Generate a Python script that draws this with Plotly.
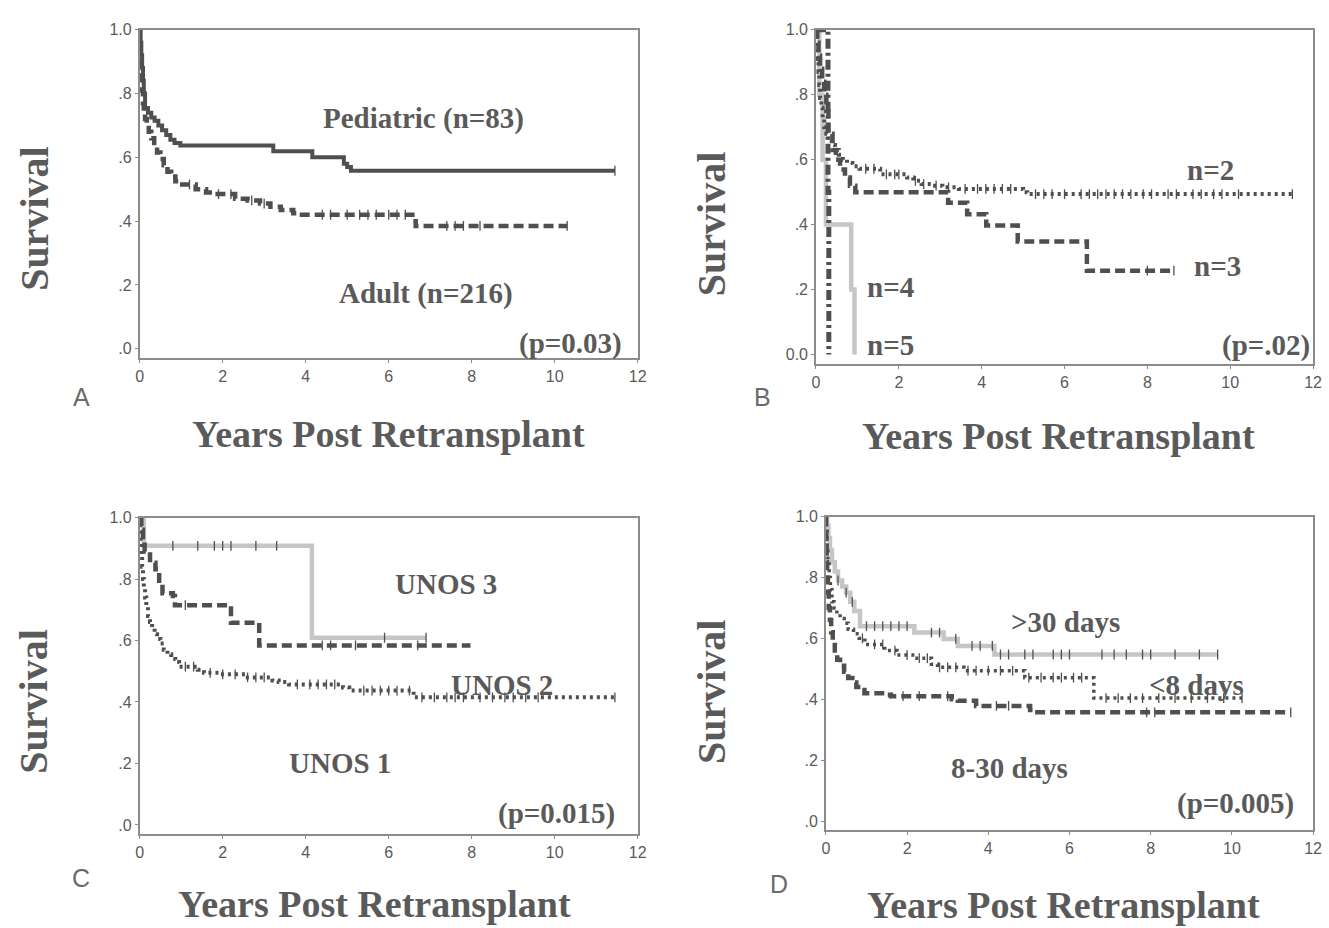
import plotly.graph_objects as go
import numpy as np

# ---------------- DATA ----------------
X_TICKS = [0, 2, 4, 6, 8, 10, 12]
Y_TICKS = [0.0, 0.2, 0.4, 0.6, 0.8, 1.0]
Y_LABELS = [".0", ".2", ".4", ".6", ".8", "1.0"]
Y_LABELS_B = ["0.0", ".2", ".4", ".6", ".8", "1.0"]

# Panel A
A_PED_T = [0.02, 0.04, 0.06, 0.08, 0.10, 0.13, 0.20, 0.28, 0.36, 0.45, 0.54, 0.64, 0.74, 0.84, 0.98, 3.22, 4.16, 4.92, 5.00, 5.09]
A_PED_S = [0.96, 0.92, 0.88, 0.84, 0.80, 0.755, 0.74, 0.725, 0.715, 0.70, 0.685, 0.67, 0.655, 0.645, 0.637, 0.619, 0.600, 0.580, 0.570, 0.558]
A_PED_END = 11.45
A_PED_C = [11.45]

A_ADU_T = [0.01, 0.02, 0.04, 0.06, 0.08, 0.10, 0.13, 0.17, 0.22, 0.28, 0.35, 0.42, 0.50, 0.58, 0.67, 0.76, 0.86, 0.95,
           1.35, 1.60, 1.75, 2.30, 2.60, 2.90, 3.15, 3.40, 3.70, 3.80, 6.57, 6.65]
A_ADU_S = [0.95, 0.90, 0.85, 0.81, 0.77, 0.74, 0.72, 0.70, 0.68, 0.66, 0.635, 0.615, 0.595, 0.575, 0.555, 0.54, 0.525, 0.515,
           0.50, 0.49, 0.485, 0.47, 0.465, 0.455, 0.445, 0.435, 0.425, 0.42, 0.40, 0.385]
A_ADU_END = 10.3
A_ADU_C = [1.2, 1.9, 2.2, 2.7, 3.0, 4.4, 4.6, 5.0, 5.3, 5.5, 5.7, 6.0, 6.2, 6.4, 7.4, 7.6, 7.8, 8.2, 10.3]

# Panel B
B2_T = [0.02, 0.04, 0.06, 0.08, 0.10, 0.13, 0.16, 0.20, 0.25, 0.30, 0.38, 0.46, 0.55, 0.65, 0.75, 0.88, 1.05,
        1.55, 2.20, 2.35, 2.55, 2.80, 3.05, 3.45, 5.00, 5.10]
B2_S = [0.95, 0.91, 0.87, 0.83, 0.79, 0.76, 0.73, 0.70, 0.68, 0.66, 0.645, 0.63, 0.615, 0.60, 0.59, 0.58, 0.572,
        0.555, 0.545, 0.535, 0.525, 0.52, 0.515, 0.51, 0.50, 0.494]
B2_END = 11.5
B2_C = [1.2, 1.4, 1.7, 1.9, 2.0, 2.4, 2.6, 2.9, 3.2, 3.6, 3.9, 4.1, 4.3, 4.5, 4.7, 5.3, 5.5, 5.7, 6.0, 6.4, 6.6, 6.8, 7.0,
        7.2, 7.4, 7.6, 7.9, 8.1, 8.5, 8.7, 9.1, 9.3, 9.6, 9.8, 10.2, 11.5]
B3_T = [0.03, 0.06, 0.10, 0.15, 0.20, 0.25, 0.30, 0.40, 0.48, 0.58, 0.70, 0.82, 0.95, 3.19, 3.65, 4.11, 4.87, 6.54]
B3_S = [0.96, 0.92, 0.88, 0.84, 0.80, 0.75, 0.68, 0.63, 0.60, 0.57, 0.545, 0.52, 0.50, 0.467, 0.432, 0.397, 0.348, 0.258]
B3_END = 8.64
B3_C = [8.0, 8.64]
B4_T = [0.08, 0.16, 0.24, 0.85, 0.93]
B4_S = [0.80, 0.60, 0.40, 0.20, 0.00]
B4_END = 0.93
B5_T = [0.29, 0.31]
B5_S = [0.50, 0.00]
B5_END = 0.31

# Panel C
C3_T = [0.10, 4.15]
C3_S = [0.908, 0.609]
C3_END = 6.9
C3_C = [0.8, 1.4, 1.8, 2.0, 2.2, 2.8, 3.3, 5.9, 6.9]
C2_T = [0.04, 0.08, 0.12, 0.25, 0.38, 0.47, 0.55, 0.80, 0.85, 2.20, 2.88]
C2_S = [0.96, 0.92, 0.89, 0.853, 0.832, 0.785, 0.754, 0.745, 0.715, 0.658, 0.584]
C2_END = 7.97
C2_C = [1.1, 4.4, 4.6, 5.2, 6.7]
C1_T = [0.01, 0.02, 0.04, 0.06, 0.08, 0.10, 0.13, 0.16, 0.20, 0.25, 0.30, 0.36, 0.42, 0.50, 0.58, 0.67, 0.76, 0.86, 0.95,
        1.40, 1.55, 1.95, 2.55, 3.20, 3.35, 3.60, 4.90, 5.05, 6.60]
C1_S = [0.96, 0.92, 0.88, 0.84, 0.80, 0.77, 0.74, 0.71, 0.68, 0.66, 0.64, 0.62, 0.605, 0.59, 0.57, 0.555, 0.54, 0.53, 0.515,
        0.505, 0.495, 0.49, 0.48, 0.47, 0.465, 0.457, 0.447, 0.437, 0.415]
C1_END = 11.45
C1_C = [1.1, 1.3, 1.7, 2.0, 2.3, 2.6, 2.8, 3.0, 3.8, 4.1, 4.3, 4.5, 4.7, 5.4, 5.6, 5.8, 6.0, 6.2, 6.5, 6.8, 7.1, 7.4,
        7.6, 7.8, 8.2, 8.5, 8.8, 9.0, 9.3, 9.6, 11.45]

# Panel D
D30_T = [0.03, 0.06, 0.10, 0.15, 0.22, 0.30, 0.40, 0.50, 0.60, 0.70, 0.84, 2.18, 2.90, 3.25, 4.15]
D30_S = [0.97, 0.93, 0.89, 0.85, 0.82, 0.79, 0.77, 0.75, 0.72, 0.69, 0.64, 0.619, 0.598, 0.575, 0.547]
D30_END = 9.65
D30_C = [0.3, 0.5, 0.65, 1.0, 1.2, 1.4, 1.6, 1.8, 2.0, 2.6, 2.8, 3.2, 3.6, 3.8, 4.1, 4.3, 4.5, 4.9, 5.1, 5.6, 5.8,
         6.0, 6.8, 7.1, 7.4, 7.8, 8.0, 8.6, 9.2, 9.65]
D8_T = [0.01, 0.03, 0.05, 0.08, 0.11, 0.15, 0.20, 0.27, 0.35, 0.45, 0.55, 0.68, 0.82, 0.96, 1.45, 1.75, 2.20, 2.60, 2.75,
        3.40, 4.90, 6.60]
D8_S = [0.95, 0.90, 0.85, 0.80, 0.76, 0.72, 0.70, 0.68, 0.665, 0.65, 0.63, 0.615, 0.60, 0.58, 0.56, 0.545, 0.535, 0.515,
        0.505, 0.494, 0.471, 0.404]
D8_END = 10.25
D8_C = [0.9, 1.2, 1.4, 1.7, 2.0, 2.3, 2.5, 2.8, 3.0, 3.2, 3.5, 3.7, 4.0, 4.3, 4.6, 5.0, 5.3, 5.6, 5.8, 6.1, 6.3, 6.9,
        7.2, 7.5, 7.8, 8.2, 8.6, 9.0, 9.4, 9.8, 10.25]
D830_T = [0.005, 0.01, 0.02, 0.03, 0.05, 0.07, 0.10, 0.13, 0.17, 0.22, 0.28, 0.35, 0.45, 0.55, 0.65, 0.75, 0.85, 0.95,
          1.50, 1.60, 3.10, 3.25, 3.70, 5.03, 5.10]
D830_S = [0.95, 0.90, 0.85, 0.80, 0.75, 0.70, 0.66, 0.62, 0.59, 0.56, 0.53, 0.51, 0.49, 0.47, 0.455, 0.44, 0.43, 0.42,
          0.415, 0.41, 0.40, 0.395, 0.378, 0.365, 0.357]
D830_END = 11.45
D830_C = [1.9, 2.3, 3.0, 4.2, 4.5, 7.9, 8.1, 11.45]

# ---------------- STYLE ----------------
W, H = 1329, 928
DARK = "#4f4f4f"
LIGHT = "#c6c6c6"
TXT = "#5a5a5a"
AXC = "#8c8c8c"
SERIF = "Liberation Serif, Times New Roman, serif"
SANS = "Liberation Sans, Arial, sans-serif"

# panel frames in pixels: (left, right, top, bottom)
FRAMES = {
    1: (137, 640, 22, 353),
    2: (820, 1322, 22, 359),
    3: (137, 640, 514, 833),
    4: (830, 1322, 513, 829),
}
YMIN = -0.029

fig = go.Figure()


def km_curve(ax, times, survs, end, censor, color, width, dash):
    xs = [0.0] + list(times) + [end]
    ys = [1.0] + list(survs) + [survs[-1]]
    xa = "x" if ax == 1 else f"x{ax}"
    ya = "y" if ax == 1 else f"y{ax}"
    fig.add_trace(go.Scatter(x=xs, y=ys, mode="lines", line=dict(color=color, width=width, dash=dash, shape="hv"),
                             xaxis=xa, yaxis=ya, showlegend=False, hoverinfo="skip", cliponaxis=False))
    if censor:
        t_arr = np.array([0.0] + list(times))
        s_arr = np.array([1.0] + list(survs))
        cy = [float(s_arr[np.searchsorted(t_arr, c, side="right") - 1]) for c in censor]
        fig.add_trace(go.Scatter(x=censor, y=cy, mode="markers",
                                 marker=dict(symbol="line-ns", size=7, line=dict(color=DARK, width=1.3)),
                                 xaxis=xa, yaxis=ya, showlegend=False, hoverinfo="skip"))


DASHED = "10px,5px"
DOTTED = "3px,4px"
DASHDOT = "10px,4px,3px,4px"

# A
km_curve(1, A_PED_T, A_PED_S, A_PED_END, A_PED_C, DARK, 4, "solid")
km_curve(1, A_ADU_T, A_ADU_S, A_ADU_END, A_ADU_C, DARK, 4.5, DASHED)
# B
km_curve(2, B4_T, B4_S, B4_END, None, LIGHT, 4.5, "solid")
km_curve(2, B5_T, B5_S, B5_END, None, DARK, 5, DASHDOT)
km_curve(2, B2_T, B2_S, B2_END, B2_C, DARK, 4, DOTTED)
km_curve(2, B3_T, B3_S, B3_END, B3_C, DARK, 4.5, DASHED)
# C
km_curve(3, C3_T, C3_S, C3_END, C3_C, LIGHT, 4.5, "solid")
km_curve(3, C2_T, C2_S, C2_END, C2_C, DARK, 4.5, DASHED)
km_curve(3, C1_T, C1_S, C1_END, C1_C, DARK, 4, DOTTED)
# D
km_curve(4, D30_T, D30_S, D30_END, D30_C, LIGHT, 4.5, "solid")
km_curve(4, D8_T, D8_S, D8_END, D8_C, DARK, 3.5, DOTTED)
km_curve(4, D830_T, D830_S, D830_END, D830_C, DARK, 4.5, DASHED)

layout = dict(width=W, height=H, margin=dict(l=0, r=0, t=0, b=0), paper_bgcolor="white", plot_bgcolor="white",
              showlegend=False)
for i, (l, r, t, b) in FRAMES.items():
    xs = "xaxis" if i == 1 else f"xaxis{i}"
    ys = "yaxis" if i == 1 else f"yaxis{i}"
    yid = "y" if i == 1 else f"y{i}"
    xid = "x" if i == 1 else f"x{i}"
    layout[xs] = dict(domain=[l / W, r / W], range=[0, 12], tickvals=X_TICKS, ticktext=[str(v) for v in X_TICKS],
                      showline=True, linecolor=AXC, linewidth=1.5, mirror=True, ticks="outside", ticklen=3,
                      tickcolor=AXC, showgrid=False, zeroline=False, anchor=yid,
                      tickfont=dict(family=SANS, size=16, color=TXT))
    layout[ys] = dict(domain=[1 - b / H, 1 - t / H], range=[YMIN, 1], tickvals=Y_TICKS,
                      ticktext=Y_LABELS_B if i == 2 else Y_LABELS,
                      showline=True, linecolor=AXC, linewidth=1.5, mirror=True, ticks="outside", ticklen=3,
                      tickcolor=AXC, showgrid=False, zeroline=False, anchor=xid,
                      tickfont=dict(family=SANS, size=16, color=TXT))
fig.update_layout(**layout)


def txt(px, py, s, size, family=SERIF, bold=True, angle=0, color=TXT):
    fig.add_annotation(x=px / W, y=1 - py / H, xref="paper", yref="paper", text=f"<b>{s}</b>" if bold else s,
                       showarrow=False, xanchor="center", yanchor="middle", textangle=angle,
                       font=dict(family=family, size=size, color=color))


# axis titles
for (px, py) in [(388, 430), (1065, 432), (374, 904), (1070, 905)]:
    txt(px, py, "Years Post Retransplant", 38)
for (px, py) in [(30, 213), (714, 218), (30, 700), (714, 690)]:
    txt(px, py, "Survival", 40, angle=-90)
# panel letters
for (px, py, s) in [(78, 392, "A"), (766, 392, "B"), (78, 878, "C"), (783, 884, "D")]:
    txt(px, py, s, 25, family=SANS, bold=False, color="#6a6a6a")

# in-plot labels
LABELS = [
    (424, 111, "Pediatric (n=83)"), (426, 288, "Adult (n=216)"), (572, 338, "(p=0.03)"),
    (1218, 163, "n=2"), (1225, 260, "n=3"), (895, 281, "n=4"), (895, 340, "n=5"), (1274, 340, "(p=.02)"),
    (446, 581, "UNOS 3"), (503, 683, "UNOS 2"), (339, 762, "UNOS 1"), (558, 812, "(p=0.015)"),
    (1072, 619, "&gt;30 days"), (1204, 683, "&lt;8 days"), (1015, 767, "8-30 days"), (1244, 802, "(p=0.005)"),
]
for px, py, s in LABELS:
    txt(px, py, s, 29)

fig.write_html("out.html", config={"displayModeBar": False},
               post_script="document.body.style.margin='0';document.body.style.padding='0';")
